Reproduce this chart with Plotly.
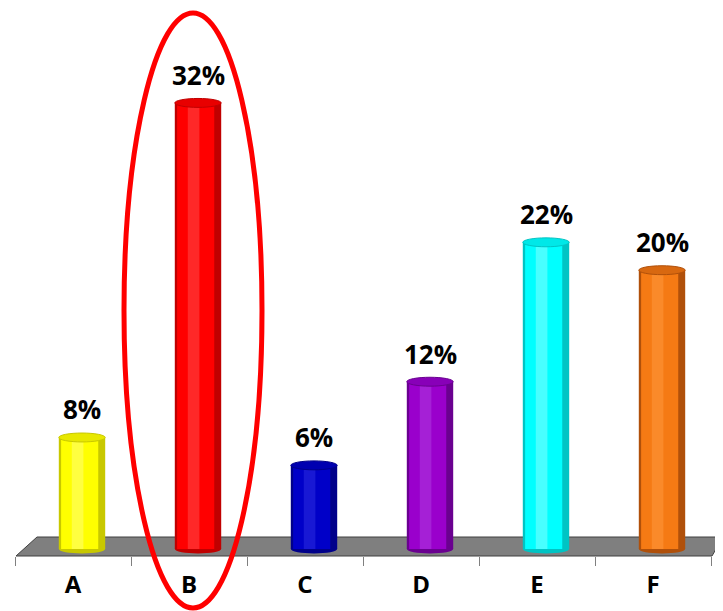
import plotly.graph_objects as go

categories = ["A", "B", "C", "D", "E", "F"]
values = [8, 32, 6, 12, 22, 20]
labels = ["8%", "32%", "6%", "12%", "22%", "20%"]
base_colors = ["#FFFF00", "#FF0000", "#0000C8", "#9A00CC", "#00FFFF", "#F57A14"]
edge_colors = ["#C8C800", "#C00000", "#00008A", "#6A0090", "#00C4C4", "#B0500A"]
light_colors = ["#FFFF80", "#FF5050", "#3030E0", "#B040E0", "#90FFFF", "#FF9A40"]
top_colors = ["#E8E800", "#E80000", "#0000B0", "#8800B8", "#00E8E8", "#D86810"]

OFF = 8  # page body margin
W, H = 723 - OFF, 611 - OFF
ML, MR, MT, MB = 15 - OFF, 0, 0, 55
PX_PER_UNIT = 13.94
ymin = -7 / PX_PER_UNIT
ymax = ymin + (H - MB - MT) / PX_PER_UNIT
xr = [-0.5, 5.5 + (W - ML - 696) / 116]

BW = 0.40
DX = 9 / 116  # 3D depth offset of the cylinders relative to category centre
fig = go.Figure()
fig.add_trace(go.Bar(x=categories, y=values, width=BW, offset=-BW / 2 + DX,
                     marker=dict(color=edge_colors, line=dict(width=0)), hoverinfo="skip", showlegend=False))
fig.add_trace(go.Bar(x=categories, y=values, width=BW * 0.8, offset=-BW * 0.45 + DX,
                     marker=dict(color=base_colors, line=dict(width=0)), hoverinfo="skip", showlegend=False))
fig.add_trace(go.Bar(x=categories, y=values, width=BW * 0.25, offset=-BW * 0.22 + DX,
                     marker=dict(color=light_colors, line=dict(width=0), opacity=0.5), hoverinfo="skip",
                     showlegend=False))

shapes = []

def px_to_paper_x(px):
    return (px - OFF - ML) / (W - ML - MR)

def px_to_paper_y(py):
    return (H - MB - (py - OFF)) / (H - MB - MT)

floor = [(37, 537), (723, 537), (712, 556), (16, 556)]
path = "M " + " L ".join(f"{px_to_paper_x(a):.5f},{px_to_paper_y(b):.5f}" for a, b in floor) + " Z"
shapes.append(dict(type="path", xref="paper", yref="paper", path=path,
                   fillcolor="#7F7F7F", line=dict(color="#404040", width=1), layer="below"))

eh = 0.32
for i, v in enumerate(values):
    cx = i + DX
    shapes.append(dict(type="circle", xref="x", yref="y", x0=cx - BW / 2, x1=cx + BW / 2, y0=-eh, y1=eh,
                       fillcolor=edge_colors[i], line=dict(width=0), layer="below"))
    shapes.append(dict(type="circle", xref="x", yref="y", x0=cx - BW / 2, x1=cx + BW / 2, y0=v - eh, y1=v + eh,
                       fillcolor=top_colors[i], line=dict(color=edge_colors[i], width=1), layer="above"))

shapes.append(dict(type="circle", xref="paper", yref="paper",
                   x0=px_to_paper_x(124), x1=px_to_paper_x(262),
                   y0=px_to_paper_y(608), y1=px_to_paper_y(13),
                   line=dict(color="#FF0000", width=5), fillcolor="rgba(0,0,0,0)", layer="above"))

annotations = []
for i, v in enumerate(values):
    annotations.append(dict(x=i + DX, y=v, xref="x", yref="y", text=f"<b>{labels[i]}</b>", showarrow=False,
                            yanchor="middle", yshift=28,
                            font=dict(family="Open Sans", size=26, color="#000000")))

fig.update_layout(
    width=W, height=H,
    margin=dict(l=ML, r=MR, t=MT, b=MB, pad=0),
    paper_bgcolor="white", plot_bgcolor="white",
    barmode="overlay",
    shapes=shapes, annotations=annotations,
    xaxis=dict(type="category", range=xr, tickson="boundaries", ticks="outside", ticklen=9,
               tickcolor="#808080", tickwidth=1, showline=False, showgrid=False, zeroline=False,
               tickfont=dict(family="Open Sans", size=24, color="#000000"),
               tickvals=categories, ticktext=[f"<b>{c}</b>" for c in categories], ticklabelstandoff=12),
    yaxis=dict(range=[ymin, ymax], visible=False, showgrid=False, zeroline=False),
)

fig.write_html("out.html")
